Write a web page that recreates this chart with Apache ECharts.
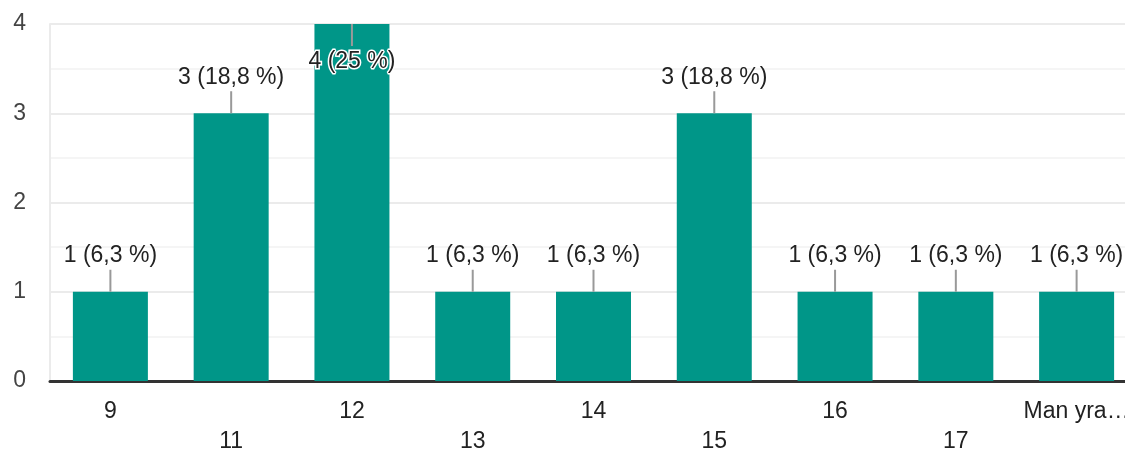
<!DOCTYPE html>
<html>
<head>
<meta charset="utf-8">
<script src="https://cdn.jsdelivr.net/npm/echarts@6/dist/echarts.min.js"></script>
<style>
  html, body { margin: 0; padding: 0; background: #fff; }
  #chart { width: 1125px; height: 450px; }
</style>
</head>
<body>
<div id="chart"></div>
<script>
// atsakymai (kategorijos) ir kiekiai
var categories = ['9', '11', '12', '13', '14', '15', '16', '17', 'Man yra…'];
var counts = [1, 3, 4, 1, 1, 3, 1, 1, 1];
var percents = ['6,3', '18,8', '25', '6,3', '6,3', '18,8', '6,3', '6,3', '6,3'];
var yTicks = [0, 1, 2, 3, 4];

var FONT = '"Liberation Sans", Arial, sans-serif';

var chart = echarts.init(document.getElementById('chart'), null, { renderer: 'canvas' });

// label + leader line for each bar
function renderLabel(params, api) {
    var idx = api.value(0);
    var val = api.value(1);
    var top = api.coord([idx, val]);
    var x = top[0], y = top[1];
    var txt = val + ' (' + percents[idx] + ' %)';
    var inside = y - 40 < 0;
    var lineEnd = inside ? y + 22 : y - 22;
    var textY = inside ? y + 38 : y - 36;
    return {
        type: 'group',
        children: [{
            type: 'line',
            shape: { x1: x, y1: y, x2: x, y2: lineEnd },
            style: { stroke: '#999', lineWidth: 2 }
        }, {
            type: 'text',
            style: {
                text: txt,
                x: x,
                y: textY,
                align: 'center',
                verticalAlign: 'middle',
                fill: '#222',
                stroke: inside ? '#fff' : null,
                lineWidth: inside ? 3 : 0,
                font: '23px ' + FONT
            }
        }]
    };
}

var option = {
    animation: false,
    textStyle: { fontFamily: FONT },
    grid: { left: 50, top: 24, width: 1087, bottom: 69, outerBoundsMode: 'none', containLabel: false },
    xAxis: {
        type: 'category',
        data: categories,
        axisLine: { lineStyle: { color: '#333', width: 3 } },
        axisTick: { show: false },
        axisLabel: {
            interval: 0,
            color: '#222',
            fontSize: 23,
            lineHeight: 30,
            margin: 16,
            formatter: function (v, i) { return i % 2 ? '\n' + v : v; }
        }
    },
    yAxis: {
        type: 'value',
        min: yTicks[0],
        max: yTicks[yTicks.length - 1],
        interval: 1,
        axisLine: { show: true, lineStyle: { color: '#ebebeb', width: 2 } },
        axisTick: { show: false },
        axisLabel: { color: '#444', fontSize: 23, margin: 24 },
        splitLine: { lineStyle: { color: '#ebebeb', width: 2 } },
        minorTick: { show: false, splitNumber: 2 },
        minorSplitLine: { show: true, lineStyle: { color: '#f5f5f5', width: 2 } }
    },
    series: [{
        type: 'bar',
        data: counts,
        barWidth: 75,
        itemStyle: { color: '#009688' }
    }, {
        type: 'custom',
        clip: false,
        data: counts.map(function (v, i) { return [i, v]; }),
        encode: { x: 0, y: 1 },
        renderItem: renderLabel,
        z: 5
    }]
};

chart.setOption(option);
</script>
</body>
</html>
